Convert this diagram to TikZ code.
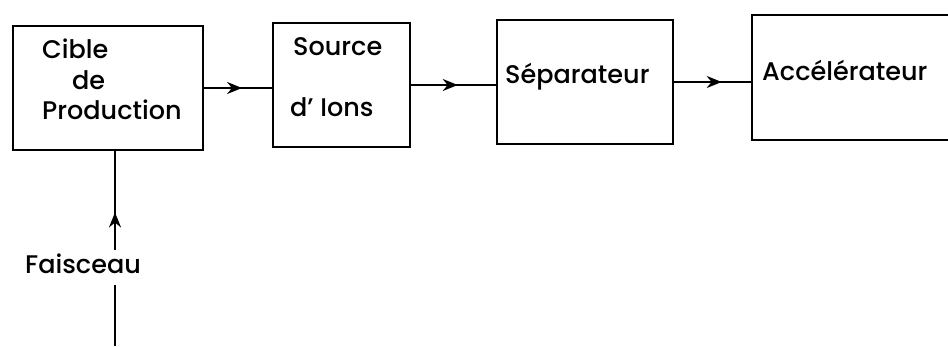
\documentclass[tikz,border=0pt]{standalone}
\usepackage{fontspec}
\setmainfont{Poppins}[BoldFont={Poppins Medium}]
\usetikzlibrary{arrows.meta,decorations.markings}
\tikzset{
  box/.style={draw, line width=2.2pt, inner sep=0pt},
  lbl/.style={anchor=base west, inner sep=0pt, font=\fontsize{25.5}{25.5}\selectfont\bfseries},
  line/.style={line width=2.2pt},
  midarrow/.style={postaction={decorate}, decoration={markings,
     mark=at position #1 with {\arrow{Stealth[length=15pt,width=12pt]}}}},
}
\begin{document}
\begin{tikzpicture}[x=1pt,y=-1pt]
\useasboundingbox (0,0) rectangle (948,346);
\clip (0,0) rectangle (948,346);
% boxes
\node[box, minimum width=190pt, minimum height=124pt] (cible) at (108,88) {};
\node[box, minimum width=137pt, minimum height=124pt] (source) at (341.5,85) {};
\node[box, minimum width=176pt, minimum height=124pt] (sep) at (585,82) {};
\node[box, minimum width=260pt, minimum height=125pt] (acc) at (882,77.5) {};
% texts
\node[lbl] (t1) at (42,58) {Cible};
\node[lbl] (t2) at (72,89) {de};
\node[lbl] (t3) at (42,119) {Production};
\node[lbl] (t4) at (293,55) {Source};
\node[lbl] (t5) at (290,116) {d' Ions};
\node[lbl] (t6) at (505,83) {Séparateur};
\node[lbl] (t7) at (762,80) {Accélérateur};
\node[lbl] (fais) at (25,273) {Faisceau};
% connectors
\draw[line, midarrow=0.56] (cible.east) -- (cible.east -| source.west);
\draw[line, midarrow=0.55] (source.east) -- (source.east -| sep.west);
\draw[line, midarrow=0.62] (sep.east) -- (sep.east -| acc.west);
% beam
\coordinate (bbot) at (115,346);
\coordinate (blow) at (115,285);
\coordinate (bup) at (115,250);
\draw[line] (bbot) -- (blow);
\draw[line, midarrow=0.38] (bup) -- (bup |- cible.south);
\end{tikzpicture}
\end{document}
